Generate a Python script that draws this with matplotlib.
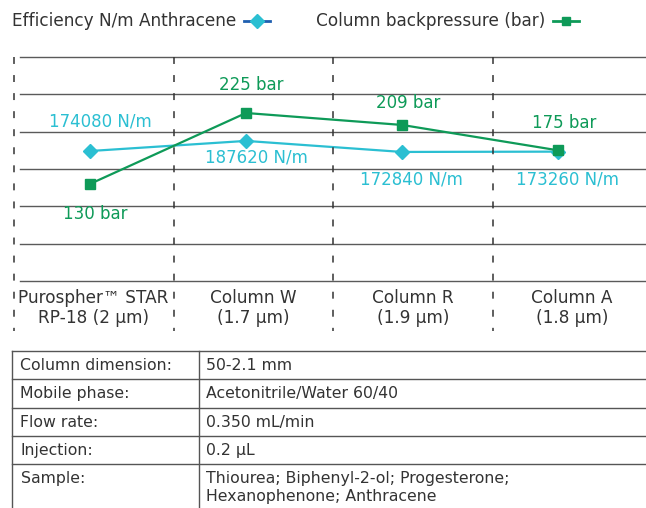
import matplotlib
matplotlib.use("Agg")
import matplotlib.pyplot as plt
from matplotlib.lines import Line2D

W, H = 646, 508

categories = ["Purospher™ STAR", "Column W", "Column R", "Column A"]
particle_sizes = ["RP-18 (2 µm)", "(1.7 µm)", "(1.9 µm)", "(1.8 µm)"]
efficiency = [174080, 187620, 172840, 173260]
backpressure = [130, 225, 209, 175]

# label offsets in pixels (dx, dy) relative to each point
eff_offsets = [(10, 30), (10, -17), (9, -28), (9, -28)]
bar_offsets = [(5, -30), (5, 28), (6, 22), (6, 27)]

table_labels = ["Column dimension:", "Mobile phase:", "Flow rate:", "Injection:", "Sample:"]
table_values = ["50-2.1 mm", "Acetonitrile/Water 60/40", "0.350 mL/min", "0.2 µL",
                "Thiourea; Biphenyl-2-ol; Progesterone;\nHexanophenone; Anthracene"]

CYAN = "#2bbfd2"
GREEN = "#0e9a58"
BLUE = "#1f5fb0"
TXT = "#333333"

plt.rcParams["font.family"] = "DejaVu Sans"
plt.rcParams["lines.scale_dashes"] = False


def fx(x):
    return x / W


def fy(y):
    return 1 - y / H


fig = plt.figure(figsize=(W / 100, H / 100), dpi=100)
fig.patch.set_facecolor("white")

# plot area: x 14..646 px, y 57..281 px
ax = fig.add_axes([fx(14), fy(281), 1 - fx(14), (281 - 57) / H])
ax.set_xlim(-76 / 156, 556 / 156)
ax.set_ylim(0, 300000)
ax2 = ax.twinx()
ax2.set_ylim(0, 300)
for a in (ax, ax2):
    a.set_axis_off()

for v in range(0, 300001, 50000):
    ax.axhline(v, xmin=6 / 632, xmax=1, color="#5a5a5a", lw=1.0, zorder=1, clip_on=False)

xs = list(range(len(categories)))
ax.plot(xs, efficiency, color=CYAN, lw=1.6, marker="D", ms=7, zorder=3)
ax2.plot(xs, backpressure, color=GREEN, lw=1.6, marker="s", ms=6.5, zorder=4)

for x, v, (dx, dy) in zip(xs, efficiency, eff_offsets):
    ax.annotate(f"{v} N/m", (x, v), xytext=(dx, dy), textcoords="offset pixels",
                ha="center", va="center", color=CYAN, fontsize=12)
for x, v, (dx, dy) in zip(xs, backpressure, bar_offsets):
    ax2.annotate(f"{v} bar", (x, v), xytext=(dx, dy), textcoords="offset pixels",
                 ha="center", va="center", color=GREEN, fontsize=12)

# dashed column separators
for x in [14.3, 173.5, 333, 492.7]:
    fig.add_artist(Line2D([fx(x), fx(x)], [fy(57), fy(331)], color="#333333",
                          lw=1.1, dashes=(5, 8)))

# column labels
for cx, name, size in zip([93, 253.5, 413, 572], categories, particle_sizes):
    fig.text(fx(cx), fy(298), name, ha="center", va="center", color=TXT, fontsize=12.2)
    fig.text(fx(cx), fy(318), size, ha="center", va="center", color=TXT, fontsize=12.2)

# legend
t1 = fig.text(fx(12.5), fy(20.5), "Efficiency N/m Anthracene", ha="left", va="center",
              color=TXT, fontsize=12.2)
t2 = fig.text(fx(316.5), fy(20.5), "Column backpressure (bar)", ha="left", va="center",
              color=TXT, fontsize=12.2)
fig.canvas.draw()
r = fig.canvas.get_renderer()
for t, lc, mc, mk, ms in [(t1, BLUE, CYAN, "D", 7), (t2, GREEN, GREEN, "s", 6)]:
    x0 = t.get_window_extent(r).x1 / W + fx(7)
    x1 = x0 + fx(26)
    fig.add_artist(Line2D([x0, x1], [fy(21)] * 2, color=lc, lw=2))
    fig.add_artist(Line2D([(x0 + x1) / 2], [fy(21)], color=mc, marker=mk, ms=ms, lw=0))

# conditions table
rows = [351, 379.3, 407.7, 435.7, 464]
for y in rows:
    fig.add_artist(Line2D([fx(12.3), 1], [fy(y)] * 2, color="#555555", lw=1.0))
for x in [12.3, 199]:
    fig.add_artist(Line2D([fx(x)] * 2, [fy(351), fy(508)], color="#555555", lw=1.0))
for i, (lab, val) in enumerate(zip(table_labels, table_values)):
    yc = rows[i] + 14.5
    lines = val.split("\n")
    fig.text(fx(20.5), fy(yc), lab, ha="left", va="center", color=TXT, fontsize=11.3)
    for j, line in enumerate(lines):
        fig.text(fx(206), fy(yc + 18.4 * j), line, ha="left", va="center", color=TXT,
                 fontsize=11.3)

fig.savefig("out.png", dpi=100)
